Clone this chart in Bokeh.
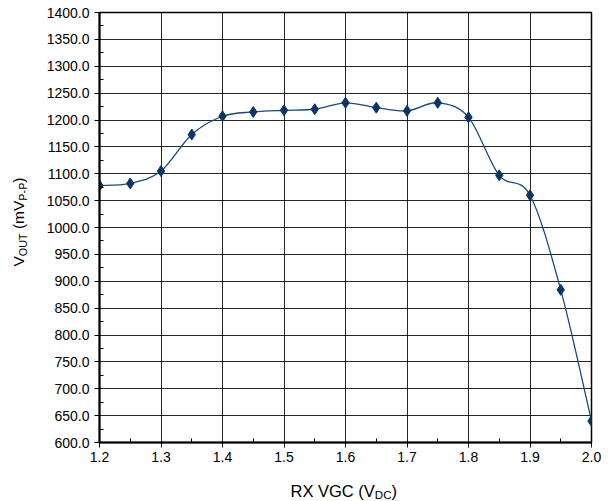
import numpy as np
from bokeh.plotting import figure
from bokeh.layouts import row, column
from bokeh.models import FixedTicker, NumeralTickFormatter, Range1d
from bokeh.core.properties import value
from bokeh.embed import file_html
from bokeh.resources import INLINE

# ---- data ----
vgc = [1.20, 1.25, 1.30, 1.35, 1.40, 1.45, 1.50, 1.55, 1.60, 1.65, 1.70, 1.75, 1.80, 1.85, 1.90, 1.95, 2.00]
vout = [1078, 1082, 1105, 1173, 1207, 1215, 1218, 1220, 1232, 1223, 1217, 1232, 1205, 1097, 1060, 884, 640]

x_ticks = [1.2, 1.3, 1.4, 1.5, 1.6, 1.7, 1.8, 1.9, 2.0]
x_minor = [1.25, 1.35, 1.45, 1.55, 1.65, 1.75, 1.85, 1.95]
y_ticks = [600, 650, 700, 750, 800, 850, 900, 950, 1000, 1050, 1100, 1150, 1200, 1250, 1300, 1350, 1400]
y_minor = [625, 675, 725, 775, 825, 875, 925, 975, 1025, 1075, 1125, 1175, 1225, 1275, 1325, 1375]

title_tail = "MHz, IF LO = 745 MHz at -10 dBm)"
x_label_parts = [("RX VGC (V", False), ("DC", True), (")", False)]
y_label_parts = [("V", False), ("OUT", True), (" (mV", False), ("P-P", True), (")", False)]

# ---- layout (page pixels; page has no margin) ----
PW, PH = 608, 501
LW = 36                 # y-title strip width
TH = 6                  # clipped title strip height
MH = 464                # main figure height
XH = PH - TH - MH       # x-title strip height
MW = PW - LW
FL, FR, FT, FB = 99, 591, 12, 442
XMIN, XMAX, YMIN, YMAX = 1.2, 2.0, 600, 1400
FONT = "Liberation Sans"
LINE_C = "#1a4a7a"
MARK_C = "#0a3566"
MID = 0.36              # baseline -> vertical middle of text, in em

p = figure(width=MW, height=MH, x_range=Range1d(XMIN, XMAX), y_range=Range1d(YMIN, YMAX),
           output_backend="svg", toolbar_location=None, title=None,
           min_border_left=FL - LW, min_border_right=PW - FR,
           min_border_top=FT - TH, min_border_bottom=TH + MH - FB)
p.background_fill_color = "white"
p.border_fill_color = "white"
p.outline_line_color = "black"
p.outline_line_width = 1.5

for ax, tk, mn in ((p.xaxis, x_ticks, x_minor), (p.yaxis, y_ticks, y_minor)):
    ax.ticker = FixedTicker(ticks=tk, minor_ticks=mn)
    ax.formatter = NumeralTickFormatter(format="0.0")
    ax.major_label_text_font = FONT
    ax.major_label_text_font_size = "14px"
    ax.major_label_text_color = "black"
    ax.axis_line_color = "black"
    ax.axis_line_width = 2
    ax.major_tick_line_color = "black"
    ax.minor_tick_line_color = "black"
    ax.major_tick_in = 0
    ax.major_tick_out = 5
    ax.minor_tick_in = 4
    ax.minor_tick_out = 0
p.xaxis.major_label_standoff = 4
p.yaxis.major_label_standoff = 5

p.xgrid.grid_line_color = "black"
p.ygrid.grid_line_color = "black"
p.xgrid.grid_line_alpha = 0.85
p.ygrid.grid_line_alpha = 0.85

# smooth curve (Catmull-Rom as cubic Bezier segments through the data points)
xs = np.array(vgc, dtype=float)
ys = np.array(vout, dtype=float)
xp = np.concatenate([[xs[0]], xs, [xs[-1]]])
yp = np.concatenate([[ys[0]], ys, [ys[-1]]])
n = len(xs)
cx0 = xp[1:n] + (xp[2:n + 1] - xp[0:n - 1]) / 6
cy0 = yp[1:n] + (yp[2:n + 1] - yp[0:n - 1]) / 6
cx1 = xp[2:n + 1] - (xp[3:n + 2] - xp[1:n]) / 6
cy1 = yp[2:n + 1] - (yp[3:n + 2] - yp[1:n]) / 6
p.bezier(x0=xs[:-1], y0=ys[:-1], x1=xs[1:], y1=ys[1:], cx0=cx0, cy0=cy0, cx1=cx1, cy1=cy1,
         line_color=LINE_C, line_width=1.3)
p.scatter(vgc, vout, marker="diamond", size=11, color=MARK_C)


# ---- text strips: frames share the main plot's left/right borders; x data = page px, y up ----
def strip(w, h, bl, br, x0, x1):
    f = figure(width=w, height=h, x_range=Range1d(x0, x1), y_range=Range1d(0, h),
               output_backend="svg", toolbar_location=None, title=None,
               x_axis_type=None, y_axis_type=None, min_border=0,
               min_border_left=bl, min_border_right=br, min_border_top=0, min_border_bottom=0)
    f.outline_line_color = None
    f.grid.visible = False
    f.background_fill_color = "white"
    f.border_fill_color = "white"
    return f


AW = {"R": 722, "X": 667, " ": 278, "V": 667, "G": 778, "C": 722, "(": 333, ")": 333,
      "D": 722, "O": 778, "U": 722, "T": 611, "m": 833, "P": 667, "-": 333}


def tw(s, size):
    return sum(AW.get(c, 600) for c in s) / 1000.0 * size


def put(f, x, y, txt, size, angle=0.0, align="left", style="normal"):
    f.text(x=[x], y=[y], text=[txt], angle=angle, text_font=value(FONT),
           text_font_size=value(f"{size}px"), text_font_style=style, text_color="black",
           text_align=align, text_baseline="middle")


# clipped title line at the very top (baseline at page y 5.5)
tf = strip(MW, TH, FL - LW, PW - FR, FL, FR)
put(tf, 340, (TH - 5.5) + MID * 13, title_tail, 13, align="center", style="bold italic")

# x-axis title (baseline at page y 496.5, subscript baseline 499)
xf = strip(MW, XH, FL - LW, PW - FR, FL, FR)
XS_MAIN, XS_SUB = 16.5, 11.5
px = 290.0
for txt, sub in x_label_parts:
    sz = XS_SUB if sub else XS_MAIN
    base = 499.0 if sub else 496.5
    lead = len(txt) - len(txt.lstrip(" "))
    px += tw(" " * lead, sz)
    put(xf, px, (PH - base) + MID * sz, txt.lstrip(" "), sz)
    px += tw(txt.lstrip(" "), sz)

# y-axis title (rotated; baseline at page x 24, subscripts at 26.5)
yf = strip(LW, PH, 0, 0, 0, LW)
YS_MAIN, YS_SUB = 15.5, 10.8
py = PH - 266.0
for txt, sub in y_label_parts:
    sz = YS_SUB if sub else YS_MAIN
    base = 26.5 if sub else 24.0
    lead = len(txt) - len(txt.lstrip(" "))
    py += tw(" " * lead, sz)
    put(yf, base - MID * sz, py, txt.lstrip(" "), sz, angle=np.pi / 2)
    py += tw(txt.lstrip(" "), sz)

layout = row(yf, column(tf, p, xf, spacing=0), spacing=0)
open("out.html", "w").write(file_html(layout, INLINE))
